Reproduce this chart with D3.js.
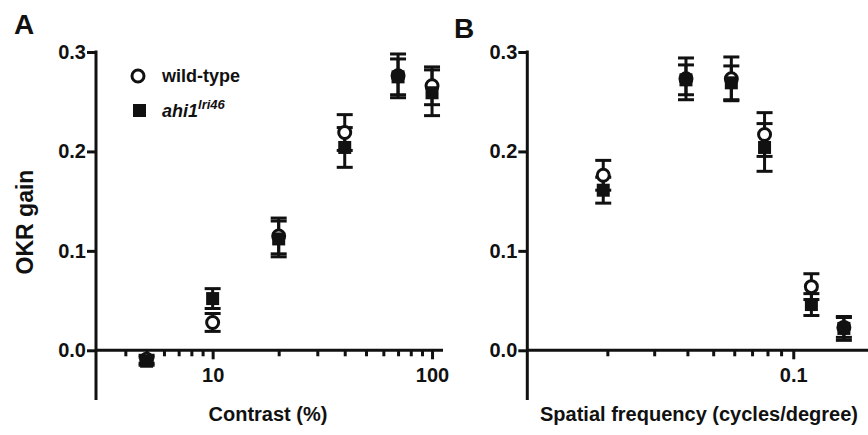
<!DOCTYPE html>
<html><head><meta charset="utf-8">
<script src="https://cdn.jsdelivr.net/npm/d3@7"></script>
<style>
html,body{margin:0;padding:0;background:#fff;}
svg{display:block;font-family:"Liberation Sans",Arial,sans-serif;font-weight:bold;}
</style></head>
<body>
<svg id="c" width="868" height="435"></svg>
<script>
// Panel A: contrast
const contrast = [5, 10, 20, 40, 70, 100];
const wtA      = [-0.009, 0.028, 0.115, 0.219, 0.276, 0.266];
const wtAerr   = [0.004, 0.009, 0.018, 0.018, 0.022, 0.019];
const mutA     = [-0.011, 0.052, 0.112, 0.204, 0.275, 0.259];
const mutAerr  = [0.004, 0.010, 0.018, 0.020, 0.018, 0.023];
// Panel B: spatial frequency
const freq     = [0.0193, 0.0395, 0.0585, 0.078, 0.117, 0.155];
const wtB      = [0.176, 0.273, 0.273, 0.217, 0.064, 0.023];
const wtBerr   = [0.015, 0.021, 0.022, 0.022, 0.013, 0.010];
const mutB     = [0.161, 0.272, 0.269, 0.204, 0.046, 0.022];
const mutBerr  = [0.013, 0.015, 0.017, 0.024, 0.011, 0.012];
// ticks
const yTicks = [0, 0.1, 0.2, 0.3];
const xMajorA = [10, 100];
const xMinorA = [4, 5, 6, 7, 8, 9, 20, 30, 40, 50, 60, 70, 80, 90];
const xMajorB = [0.1];
const xMinorB = [0.02, 0.03, 0.04, 0.05, 0.06, 0.07, 0.08, 0.09];
const seriesNames = ["wild-type", "ahi1", "lri46"];

const svg = d3.select("#c");
const INK = "#111";
const y = d3.scaleLinear().domain([-0.05, 0.3]).range([400, 52]);

function panel(opt) {
  const g = svg.append("g");
  const x = opt.x;
  const x0 = x.range()[0], x1 = x.range()[1];
  // y axis
  const ya = g.append("g").attr("transform", `translate(${x0},0)`)
    .call(d3.axisLeft(y).tickValues(yTicks).tickFormat(d3.format(".1f")).tickSize(9).tickPadding(1));
  ya.select(".domain").remove();
  g.append("line").attr("x1", x0).attr("x2", x0).attr("y1", y(0.3) - 1.5).attr("y2", y(-0.05))
    .attr("stroke", INK).attr("stroke-width", 3);
  // x axis at y=0
  const xMin = g.append("g").attr("transform", `translate(0,${y(0)})`)
    .call(d3.axisBottom(x).tickValues(opt.minor).tickFormat("").tickSize(6));
  xMin.select(".domain").remove();
  const xMaj = g.append("g").attr("transform", `translate(0,${y(0)})`)
    .call(d3.axisBottom(x).tickValues(opt.major).tickFormat(opt.fmt).tickSize(9).tickPadding(9));
  xMaj.select(".domain").remove();
  g.append("line").attr("x1", x0).attr("x2", x1).attr("y1", y(0)).attr("y2", y(0))
    .attr("stroke", INK).attr("stroke-width", 3);
  g.selectAll(".tick line").attr("stroke", INK).attr("stroke-width", 3);
  g.selectAll(".tick text").attr("fill", INK).attr("font-size", 20).attr("font-weight", "bold")
    .attr("font-family", '"Liberation Sans",Arial,sans-serif');
  // x label
  g.append("text").attr("x", opt.labelX).attr("y", 421).attr("text-anchor", "middle")
    .attr("font-size", 20).attr("fill", INK).text(opt.label);
  // panel letter
  g.append("text").attr("x", opt.letterX).attr("y", opt.letterY).attr("font-size", 28)
    .attr("fill", INK).text(opt.letter);

  const xs = opt.xs;
  function errbars(vals, errs) {
    const eg = g.append("g").attr("stroke", INK).attr("stroke-width", 3);
    xs.forEach((xv, i) => {
      const cx = x(xv), hi = y(vals[i] + errs[i]), lo = y(vals[i] - errs[i]);
      eg.append("line").attr("x1", cx).attr("x2", cx).attr("y1", hi).attr("y2", lo);
      eg.append("line").attr("x1", cx - 8).attr("x2", cx + 8).attr("y1", hi).attr("y2", hi);
      eg.append("line").attr("x1", cx - 8).attr("x2", cx + 8).attr("y1", lo).attr("y2", lo);
    });
  }
  errbars(opt.wt, opt.wtErr);
  errbars(opt.mut, opt.mutErr);
  g.append("g").selectAll("circle").data(xs).join("circle")
    .attr("cx", d => x(d)).attr("cy", (d, i) => y(opt.wt[i])).attr("r", 6)
    .attr("fill", "#fff").attr("stroke", INK).attr("stroke-width", 3);
  g.append("g").selectAll("rect").data(xs).join("rect")
    .attr("x", d => x(d) - 6.5).attr("y", (d, i) => y(opt.mut[i]) - 6.5)
    .attr("width", 13).attr("height", 13).attr("fill", INK);
  return g;
}

const xA = d3.scaleLog().domain([2.94, 112.2]).range([96, 443]);
const gA = panel({x: xA, xs: contrast, wt: wtA, wtErr: wtAerr, mut: mutA, mutErr: mutAerr,
  minor: xMinorA, major: xMajorA, fmt: d3.format("d"),
  label: "Contrast (%)", labelX: 268, letter: "A", letterX: 14, letterY: 34});
gA.select("g").selectAll(".tick text").attr("font-size", 20);

const xB = d3.scaleLog().domain([0.01, 0.191]).range([527.3, 868]);
panel({x: xB, xs: freq, wt: wtB, wtErr: wtBerr, mut: mutB, mutErr: mutBerr,
  minor: xMinorB, major: xMajorB, fmt: d3.format(".1f"),
  label: "Spatial frequency (cycles/degree)", labelX: 699, letter: "B", letterX: 454, letterY: 38});

// y label (panel A)
svg.append("text").attr("transform", "translate(33,222) rotate(-90)").attr("text-anchor", "middle")
  .attr("font-size", 23).attr("fill", INK).text("OKR gain");

// legend
const lg = svg.append("g");
lg.append("circle").attr("cx", 138).attr("cy", 76).attr("r", 6).attr("fill", "#fff")
  .attr("stroke", INK).attr("stroke-width", 3);
lg.append("text").attr("x", 162).attr("y", 82).attr("font-size", 18).attr("fill", INK).text(seriesNames[0]);
lg.append("rect").attr("x", 133).attr("y", 104).attr("width", 13).attr("height", 13).attr("fill", INK);
const t2 = lg.append("text").attr("x", 162).attr("y", 117).attr("font-size", 18).attr("fill", INK)
  .attr("font-style", "italic");
t2.append("tspan").text(seriesNames[1]);
t2.append("tspan").attr("font-size", 13).attr("dy", -8).text(seriesNames[2]);
</script>
</body></html>
